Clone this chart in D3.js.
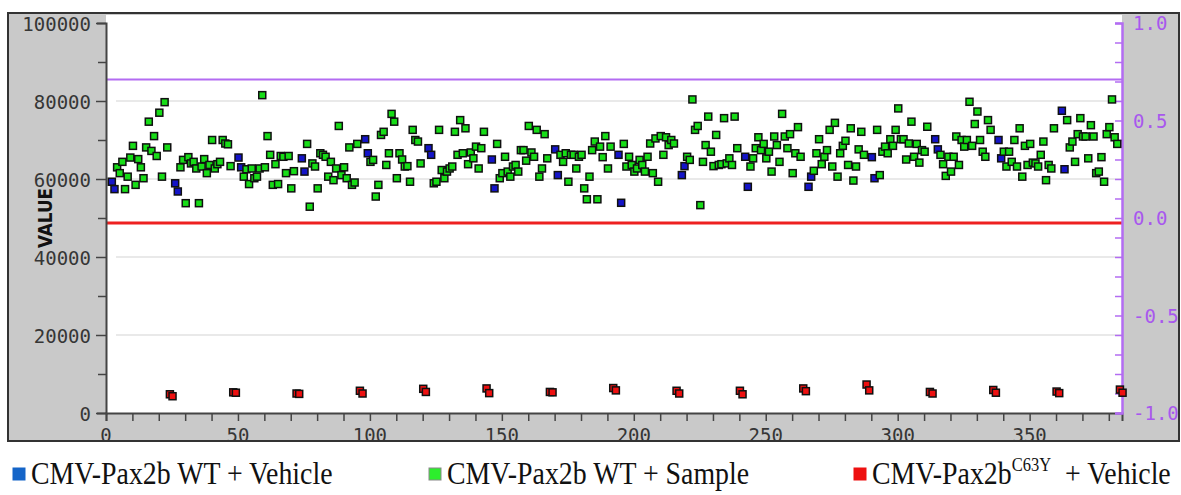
<!DOCTYPE html>
<html>
<head>
<meta charset="utf-8">
<script src="https://cdn.jsdelivr.net/npm/d3@7"></script>
<style>
  body { margin: 0; background: #fff; }
  svg { display: block; }
  .tick-label { font-family: "DejaVu Sans Mono", monospace; font-size: 19px; fill: #363636; }
  .legend-text { font-family: "Liberation Serif", "Times New Roman", serif; font-size: 32px; fill: #111; }
</style>
</head>
<body>
<svg id="chart" width="1181" height="495"></svg>
<script>
// --- Data (one plate row = 24 wells) ---
// wells 1-2 of each row: WT + Vehicle, 3-22: WT + Sample, 23-24: C63Y + Vehicle
const blueValues = [
  59300, 57400, 58900, 56800, 65500, 63000, 65300, 61900,
  70200, 66600, 67900, 66200, 65000, 57600, 67600, 61000,
  66200, 53900, 61000, 63300, 65700, 58000, 58000, 60600,
  65600, 60200, 70200, 67600, 70000, 65300, 77500, 62500
];
const greenValues = [
  [63000, 61500, 64400, 57400, 60600, 65500, 68500, 58500, 65100, 63000, 60200, 68100, 74700, 67200, 71000, 65900, 77000, 60600, 79700, 68100],
  [63000, 64900, 53800, 65600, 64000, 64400, 62700, 53800, 63200, 65100, 61500, 63600, 70000, 62700, 63800, 64400, 70000, 69100, 68900, 63300],
  [60600, 62500, 58700, 62700, 60200, 60600, 62700, 81500, 63000, 71000, 66200, 58500, 63800, 58700, 65900, 65700, 61500, 65900, 57600, 62000],
  [69000, 52900, 64000, 63200, 57600, 66600, 66200, 65700, 60600, 64400, 59700, 62700, 73600, 61000, 63000, 60200, 68100, 58500, 59100, 69000],
  [64400, 64900, 55500, 58500, 71300, 72100, 63600, 66600, 76700, 74700, 60200, 66600, 65000, 63200, 63300, 59300, 72600, 70000, 69600, 64000],
  [58900, 59300, 72600, 62300, 60200, 61900, 62700, 63200, 72100, 66200, 75100, 66600, 73000, 63800, 66800, 65300, 68300, 62700, 67900, 72100],
  [69000, 60200, 61500, 65700, 61900, 60600, 63200, 63600, 61900, 67400, 67400, 64700, 73600, 66800, 65700, 72600, 60600, 62700, 71500, 65300],
  [66200, 64400, 66600, 59300, 66200, 66200, 62700, 65700, 66200, 57600, 54800, 60600, 67400, 69600, 54800, 68300, 65600, 71000, 62700, 68300],
  [69000, 63200, 65700, 63600, 61900, 62700, 64900, 63600, 61900, 65700, 69100, 61500, 70400, 59300, 71000, 66200, 70700, 68700, 70000, 69100],
  [65700, 64900, 80400, 72600, 73600, 53300, 64400, 68700, 76000, 67000, 63300, 71300, 63600, 63800, 75600, 64000, 65300, 63600, 76000, 67900],
  [63200, 65300, 67900, 70700, 67400, 69000, 65300, 67000, 61900, 70900, 68700, 64400, 76700, 70900, 67900, 71500, 61500, 66600, 73300, 65700],
  [62100, 66600, 70200, 63800, 65700, 67400, 72600, 63200, 74400, 60600, 66600, 68500, 69800, 63600, 73000, 59600, 63200, 67600, 72100, 66200],
  [72600, 61000, 67000, 68300, 66600, 70200, 68500, 72600, 78100, 70200, 70200, 65000, 69100, 74700, 65700, 69000, 64200, 67400, 67000, 73400],
  [66200, 63800, 60800, 65700, 61900, 65700, 70900, 63600, 70000, 68300, 70000, 79800, 68500, 74100, 77300, 70000, 67000, 65700, 75100, 72600],
  [67000, 63200, 67000, 64400, 70000, 63200, 73000, 60600, 68500, 63600, 69000, 64200, 64000, 63200, 66200, 69600, 59700, 63600, 62700, 73000],
  [75100, 68100, 69600, 64400, 71500, 75600, 70900, 70900, 65300, 73800, 70900, 61500, 61900, 65600, 59300, 71500, 73300, 80400, 70700, 69000]
];
const redValues = [
  4800, 4300, 5300, 5200, 5000, 4900, 5700, 5000,
  6200, 5400, 6300, 5100, 5400, 5300, 6400, 5800,
  5700, 5000, 5700, 4800, 6300, 5600, 7300, 5800,
  5400, 5000, 5900, 5200, 5500, 5100, 6000, 5200
];
const xTickValues = [0, 50, 100, 150, 200, 250, 300, 350];
const yTickValues = [0, 20000, 40000, 60000, 80000, 100000];
const rightTickValues = [-1.0, -0.5, 0.0, 0.5, 1.0];
const upperLimit = 85500;   // purple line
const lowerLimit = 48700;   // red line
const legendItems = [
  { label: "CMV-Pax2b WT + Vehicle", color: "#1565c8", stroke: "#1565c8" },
  { label: "CMV-Pax2b WT + Sample", color: "#2cee2c", stroke: "#888" },
  { label: "CMV-Pax2b", sup: "C63Y", tail: "  + Vehicle", color: "#ee1111", stroke: "#ee1111" }
];

// --- Layout ---
const plot = { left: 106, right: 1122, top: 23, bottom: 413 };
const svg = d3.select("#chart");

const x = d3.scaleLinear().domain([0, 385]).range([plot.left, plot.right]);
const y = d3.scaleLinear().domain([0, 100000]).range([plot.bottom, plot.top]);
const yRight = d3.scaleLinear().domain([-1, 1]).range([plot.bottom, plot.top]);

// gray frame and white plot area
svg.append("rect").attr("x", 8).attr("y", 13).attr("width", 1171).attr("height", 428)
  .attr("fill", "#c9c9c9");
svg.append("rect").attr("x", plot.left).attr("y", 15)
  .attr("width", plot.right - plot.left).attr("height", plot.bottom - 15)
  .attr("fill", "#fff");

// grid
svg.append("g").selectAll("line")
  .data(yTickValues.filter(d => d > 0 && d < 100000))
  .enter().append("line")
  .attr("x1", plot.left + 10).attr("x2", plot.right)
  .attr("y1", d => y(d)).attr("y2", d => y(d))
  .attr("stroke", "#e2e2e2").attr("stroke-width", 1.5);

// reference lines
svg.append("line").attr("x1", plot.left).attr("x2", plot.right)
  .attr("y1", y(upperLimit)).attr("y2", y(upperLimit))
  .attr("stroke", "#b36cf2").attr("stroke-width", 2);
svg.append("line").attr("x1", plot.left).attr("x2", plot.right)
  .attr("y1", y(lowerLimit)).attr("y2", y(lowerLimit))
  .attr("stroke", "#ee2020").attr("stroke-width", 3);

// --- Axes ---
const leftAxis = svg.append("g").attr("transform", `translate(${plot.left},0)`)
  .call(d3.axisLeft(y).tickValues(d3.range(0, 100001, 10000)).tickSize(9).tickFormat(""));
leftAxis.selectAll(".tick line").attr("stroke", "#444").attr("stroke-width", 1.5)
  .attr("x2", d => d % 20000 === 0 ? -10 : -8);
leftAxis.select(".domain").attr("stroke", "#444").attr("stroke-width", 2);
svg.append("g").selectAll("text").data(yTickValues).enter().append("text")
  .attr("class", "tick-label").attr("x", 91).attr("y", d => y(d) + 8)
  .attr("text-anchor", "end").text(d => d);

const bottomAxis = svg.append("g").attr("transform", `translate(0,${plot.bottom})`)
  .call(d3.axisBottom(x).tickValues(d3.range(0, 381, 10)).tickSize(8).tickFormat(""));
bottomAxis.selectAll(".tick line").attr("stroke", "#444").attr("stroke-width", 1.5);
bottomAxis.select(".domain").attr("stroke", "#444").attr("stroke-width", 2);
svg.append("g").selectAll("text").data(xTickValues).enter().append("text")
  .attr("class", "tick-label").attr("x", d => x(d)).attr("y", 442)
  .attr("text-anchor", "middle").text(d => d);

const rightAxis = svg.append("g").attr("transform", `translate(${plot.right},0)`)
  .call(d3.axisLeft(yRight).tickValues(d3.range(-10, 11).map(d => d / 10)).tickSize(7).tickFormat(""));
rightAxis.selectAll(".tick line").attr("stroke", "#b36cf2").attr("stroke-width", 1.5);
rightAxis.select(".domain").attr("stroke", "#b36cf2").attr("stroke-width", 2.5);
svg.append("g").selectAll("text").data(rightTickValues).enter().append("text")
  .attr("class", "tick-label").attr("x", 1133).attr("y", d => yRight(d) + 7)
  .style("fill", "#a857ee").text(d => d3.format(".1f")(d).replace("−", "-"));

// frame border drawn over the labels, as in the original
svg.append("rect").attr("x", 8).attr("y", 13).attr("width", 1171).attr("height", 428)
  .attr("fill", "none").attr("stroke", "#333").attr("stroke-width", 2);

// axis title
svg.append("text").attr("transform", "translate(52,218) rotate(-90)")
  .attr("text-anchor", "middle")
  .attr("textLength", 60).attr("lengthAdjust", "spacingAndGlyphs")
  .style("font-family", "DejaVu Sans, sans-serif").style("font-weight", "bold")
  .style("font-size", "19px").style("fill", "#111").text("VALUE");

// --- Points ---
const points = [];
blueValues.forEach((v, i) => points.push({ well: Math.floor(i / 2) * 24 + 1 + i % 2, value: v, fill: "#1414c8" }));
greenValues.forEach((row, r) => row.forEach((v, c) => points.push({ well: r * 24 + 3 + c, value: v, fill: "#17dd17" })));
redValues.forEach((v, i) => points.push({ well: Math.floor(i / 2) * 24 + 23 + i % 2, value: v, fill: "#ee1010" }));
points.sort((a, b) => a.well - b.well);

svg.append("g").selectAll("rect").data(points).enter().append("rect")
  .attr("x", d => x(d.well) - 0.3)   // marker anchored at its left edge, like the original
  .attr("y", d => y(d.value) - 3.5)
  .attr("width", 7).attr("height", 7)
  .attr("fill", d => d.fill)
  .attr("stroke", "#101010").attr("stroke-width", 1.5);

// --- Legend ---
const legendX = [13, 429, 854];
const legend = svg.append("g");
legendItems.forEach((item, i) => {
  legend.append("rect").attr("x", legendX[i]).attr("y", 468).attr("width", 12).attr("height", 12)
    .attr("fill", item.color).attr("stroke", item.stroke).attr("stroke-width", 1);
  const t = legend.append("text").attr("class", "legend-text")
    .attr("transform", `translate(${legendX[i] + 18},484) scale(0.87,1)`);
  t.append("tspan").text(item.label);
  if (item.sup) {
    t.append("tspan").attr("dy", -13).style("font-size", "19px").text(item.sup);
    t.append("tspan").attr("dy", 13).style("white-space", "pre").text(item.tail);
  }
});
</script>
</body>
</html>
